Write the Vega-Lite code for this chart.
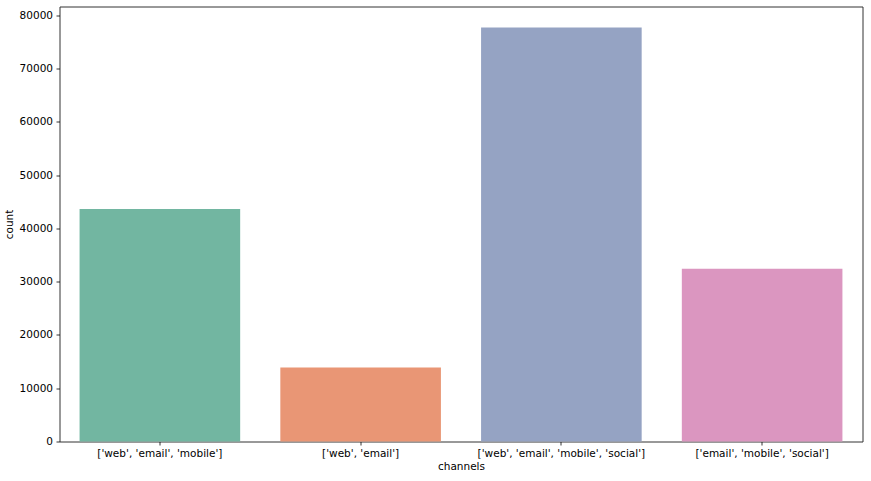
{
  "$schema": "https://vega.github.io/schema/vega-lite/v6.json",
  "width": 803,
  "height": 435,
  "autosize": {"type": "none"},
  "padding": {"left": 59.5, "top": 6.5, "right": 8.5, "bottom": 39.5},
  "background": "white",
  "data": {
    "values": [
      {"channels": "['web', 'email', 'mobile']", "count": 43670},
      {"channels": "['web', 'email']", "count": 13890},
      {"channels": "['web', 'email', 'mobile', 'social']", "count": 77750},
      {"channels": "['email', 'mobile', 'social']", "count": 32460}
    ]
  },
  "mark": {"type": "bar"},
  "encoding": {
    "x": {
      "field": "channels",
      "type": "nominal",
      "sort": null,
      "scale": {"paddingInner": 0.2, "paddingOuter": 0.1},
      "axis": {"labelAngle": 0, "title": "channels", "titlePadding": 2}
    },
    "y": {
      "field": "count",
      "type": "quantitative",
      "scale": {"domain": [0, 81690], "nice": false, "zero": true},
      "axis": {"values": [0, 10000, 20000, 30000, 40000, 50000, 60000, 70000, 80000], "title": "count", "format": "d", "titlePadding": 5}
    },
    "color": {
      "field": "channels",
      "type": "nominal",
      "sort": null,
      "scale": {"range": ["#72b6a1", "#e99675", "#95a3c3", "#db96c0"]},
      "legend": null
    }
  },
  "config": {
    "view": {"stroke": "#333333", "strokeWidth": 1},
    "axis": {
      "grid": false,
      "domain": false,
      "labelFont": "DejaVu Sans",
      "labelFontSize": 10.5,
      "labelColor": "#000000",
      "labelPadding": 3.5,
      "tickColor": "#000000",
      "tickSize": 3.5,
      "tickWidth": 0.8,
      "titleFont": "DejaVu Sans",
      "titleFontSize": 10.5,
      "titleFontWeight": "normal",
      "titleColor": "#000000"
    }
  }
}
